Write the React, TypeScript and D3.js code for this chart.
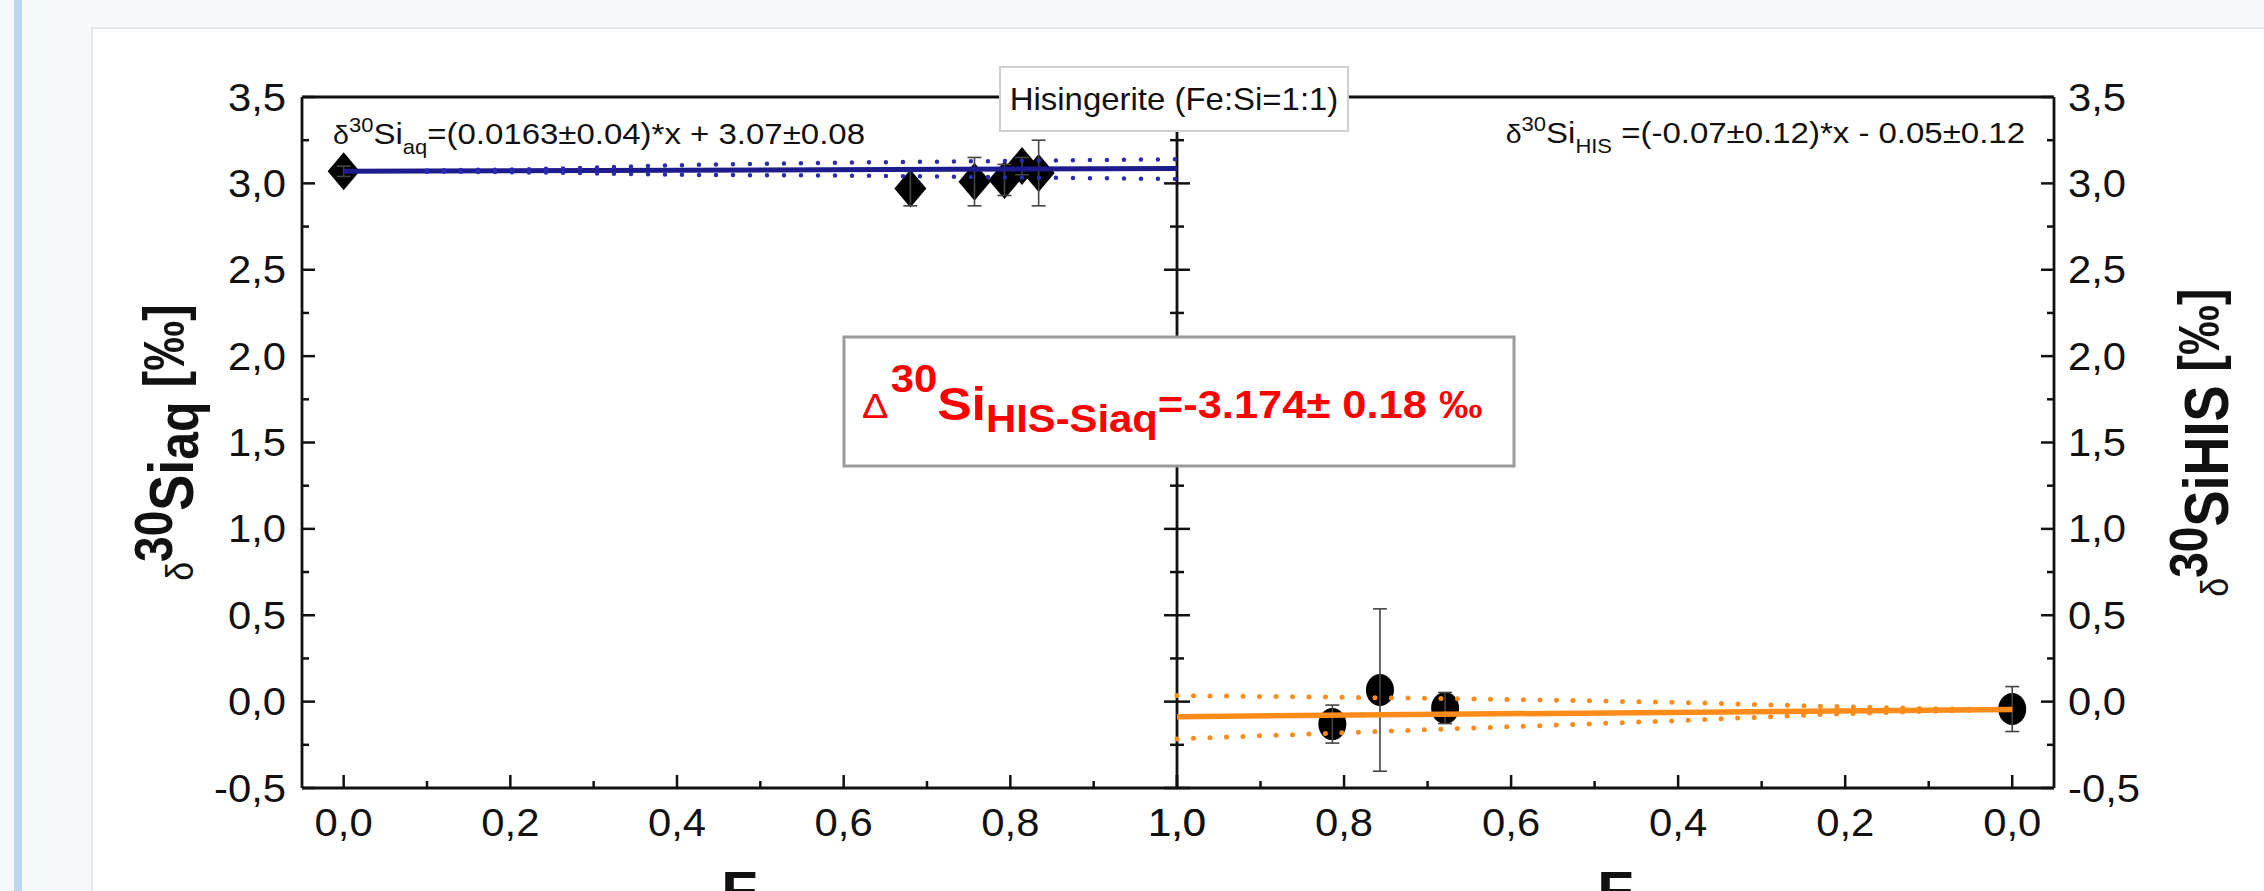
import * as d3 from 'd3';
import React from 'react';

const W = 2264;
const H = 891;
const FONT = "'Liberation Sans', Arial, Helvetica, sans-serif";
const SX = 1.1; // glyphs in the source are a bit wide

// left panel: dissolved Si (diamonds)
const aqF = [0, 0.68, 0.757, 0.793, 0.814, 0.834];
const aqDelta = [3.07, 2.97, 3.01, 3.02, 3.1, 3.06];
const aqErr = [0.03, 0.1, 0.14, 0.09, 0.05, 0.19];
const aqFitF = [0, 1];
const aqFitDelta = [3.07, 3.086];
const aqBandF = [0.1, 0.25, 0.4, 0.6, 0.8, 1.0];
const aqBandUp = [3.075, 3.085, 3.105, 3.12, 3.13, 3.14];
const aqBandLo = [3.068, 3.062, 3.05, 3.045, 3.035, 3.025];

// right panel: hisingerite (circles)
const hisF = [0.814, 0.757, 0.679, 0];
const hisDelta = [-0.13, 0.067, -0.037, -0.043];
const hisErr = [0.11, 0.47, 0.09, 0.13];
const hisFitF = [1, 0];
const hisFitDelta = [-0.087, -0.045];
const hisBandF = [1.0, 0.8, 0.6, 0.4, 0.2, 0.05];
const hisBandUp = [0.035, 0.025, 0.012, -0.005, -0.03, -0.045];
const hisBandLo = [-0.216, -0.18, -0.145, -0.11, -0.07, -0.05];

const xTicks = [0, 0.2, 0.4, 0.6, 0.8, 1.0];
const xMinor = [0.1, 0.3, 0.5, 0.7, 0.9];
const yTicks = [-0.5, 0, 0.5, 1, 1.5, 2, 2.5, 3, 3.5];
const yMinor = [-0.25, 0.25, 0.75, 1.25, 1.75, 2.25, 2.75, 3.25];

const fmt = (v: number) => d3.format('.1f')(v).replace('.', ',').replace('\u2212', '-');

export default function App() {
  const xL = d3.scaleLinear().domain([-0.05, 1]).range([302, 1177]);
  const xR = d3.scaleLinear().domain([1, -0.05]).range([1177, 2054]);
  const y = d3.scaleLinear().domain([-0.5, 3.5]).range([788, 97]);

  const top = y(3.5);
  const bottom = y(-0.5);
  const left = xL(-0.05);
  const mid = xL(1);
  const right = xR(-0.05);

  const major = 13;
  const minor = 7;
  const axisColor = '#111';

  const fitLine = (xs: number[], sc: d3.ScaleLinear<number, number>) =>
    d3.line<number>().x((_, i) => sc(xs[i])).y((d) => y(d));
  const bandLine = (xs: number[], sc: d3.ScaleLinear<number, number>) =>
    d3.line<number>().x((_, i) => sc(xs[i])).y((d) => y(d)).curve(d3.curveMonotoneX);

  const diamond = (cx: number, cy: number) =>
    `M${cx},${cy - 19}L${cx + 16},${cy}L${cx},${cy + 19}L${cx - 16},${cy}Z`;

  const errBar = (cx: number, v: number, e: number, key: string) => (
    <g key={key} stroke="#444" strokeWidth={1.6}>
      <line x1={cx} x2={cx} y1={y(v + e)} y2={y(v - e)} />
      <line x1={cx - 7} x2={cx + 7} y1={y(v + e)} y2={y(v + e)} />
      <line x1={cx - 7} x2={cx + 7} y1={y(v - e)} y2={y(v - e)} />
    </g>
  );

  return (
    <svg
      width={W}
      height={H}
      viewBox={`0 0 ${W} ${H}`}
      style={{ position: 'absolute', left: 0, top: 0, fontFamily: FONT }}
    >
      {/* page around the figure */}
      <rect x={0} y={0} width={W} height={H} fill="#f7f8fa" />
      <rect x={14} y={0} width={8} height={H} fill="#bcd6f2" />
      <rect x={92} y={28} width={2300} height={1000} fill="#fff" stroke="#dcdfe3" strokeWidth={1.5} />

      {/* frame */}
      <g stroke={axisColor} strokeWidth={2.8} fill="none">
        <line x1={left} x2={right} y1={top} y2={top} />
        <line x1={left} x2={right} y1={bottom} y2={bottom} />
        <line x1={left} x2={left} y1={top} y2={bottom} />
        <line x1={mid} x2={mid} y1={top} y2={bottom} />
        <line x1={right} x2={right} y1={top} y2={bottom} />
      </g>

      {/* y ticks */}
      <g stroke={axisColor} strokeWidth={2.5}>
        {yTicks.map((t) => (
          <g key={'yt' + t}>
            <line x1={left} x2={left + major} y1={y(t)} y2={y(t)} />
            <line x1={mid - major} x2={mid + major} y1={y(t)} y2={y(t)} />
            <line x1={right - major} x2={right} y1={y(t)} y2={y(t)} />
          </g>
        ))}
        {yMinor.map((t) => (
          <g key={'ym' + t}>
            <line x1={left} x2={left + minor} y1={y(t)} y2={y(t)} />
            <line x1={mid - minor} x2={mid + minor} y1={y(t)} y2={y(t)} />
            <line x1={right - minor} x2={right} y1={y(t)} y2={y(t)} />
          </g>
        ))}
        {xTicks.map((t) => (
          <g key={'xt' + t}>
            <line x1={xL(t)} x2={xL(t)} y1={bottom} y2={bottom - major} />
            <line x1={xR(t)} x2={xR(t)} y1={bottom} y2={bottom - major} />
          </g>
        ))}
        {xMinor.map((t) => (
          <g key={'xm' + t}>
            <line x1={xL(t)} x2={xL(t)} y1={bottom} y2={bottom - minor} />
            <line x1={xR(t)} x2={xR(t)} y1={bottom} y2={bottom - minor} />
          </g>
        ))}
      </g>

      {/* tick labels */}
      <g fontSize={38} fill="#111">
        {yTicks.map((t) => (
          <g key={'yl' + t}>
            <text transform={`translate(${left - 16},${y(t) + 13.5}) scale(${SX},1)`} textAnchor="end">
              {fmt(t)}
            </text>
            <text transform={`translate(${right + 14},${y(t) + 13.5}) scale(${SX},1)`} textAnchor="start">
              {fmt(t)}
            </text>
          </g>
        ))}
        {xTicks.map((t) => (
          <g key={'xl' + t}>
            <text transform={`translate(${xL(t)},836) scale(${SX},1)`} textAnchor="middle">
              {fmt(t)}
            </text>
            <text transform={`translate(${xR(t)},836) scale(${SX},1)`} textAnchor="middle">
              {fmt(t)}
            </text>
          </g>
        ))}
      </g>

      {/* axis titles (the source page cuts the F labels at its bottom edge) */}
      <g fontWeight="bold" fontSize={54} fill="#111">
        <text transform={`translate(${(left + mid) / 2},909) scale(${SX},1)`} textAnchor="middle">F</text>
        <text transform={`translate(${(mid + right) / 2},909) scale(${SX},1)`} textAnchor="middle">F</text>
      </g>
      <text transform={`translate(193,${(top + bottom) / 2}) scale(1.15,1) rotate(-90)`} textAnchor="middle" fill="#111">
        <tspan fontSize={34}>δ</tspan>
        <tspan fontSize={46} fontWeight="bold" dy={-18}>30</tspan>
        <tspan fontSize={54} fontWeight="bold" dy={18}>Si</tspan>
        <tspan fontSize={50} fontWeight="bold" dy={4}>aq</tspan>
        <tspan fontSize={50} fontWeight="bold" dy={-12} style={{ whiteSpace: 'pre' }}>{' [‰]'}</tspan>
      </text>
      <text transform={`translate(2228,${(top + bottom) / 2}) scale(1.15,1) rotate(-90)`} textAnchor="middle" fill="#111">
        <tspan fontSize={34}>δ</tspan>
        <tspan fontSize={46} fontWeight="bold" dy={-18}>30</tspan>
        <tspan fontSize={54} fontWeight="bold" dy={18}>SiHIS</tspan>
        <tspan fontSize={50} fontWeight="bold" dy={-8} style={{ whiteSpace: 'pre' }}>{' [‰]'}</tspan>
      </text>

      {/* left panel data */}
      {aqF.map((f, i) => (
        <path key={'d' + i} d={diamond(xL(f), y(aqDelta[i]))} fill="#000" />
      ))}
      {aqF.map((f, i) => errBar(xL(f), aqDelta[i], aqErr[i], 'ea' + i))}
      <path d={fitLine(aqFitF, xL)(aqFitDelta) || ''} fill="none" stroke="#1c1c8c" strokeWidth={5} />
      <g fill="none" stroke="#2a2ab4" strokeWidth={4.5} strokeDasharray="0 17" strokeLinecap="round">
        <path d={bandLine(aqBandF, xL)(aqBandUp) || ''} />
        <path d={bandLine(aqBandF, xL)(aqBandLo) || ''} />
      </g>

      {/* right panel data */}
      {hisF.map((f, i) => (
        <ellipse key={'c' + i} cx={xR(f)} cy={y(hisDelta[i])} rx={14} ry={16} fill="#000" />
      ))}
      {hisF.map((f, i) => errBar(xR(f), hisDelta[i], hisErr[i], 'eh' + i))}
      <path d={fitLine(hisFitF, xR)(hisFitDelta) || ''} fill="none" stroke="#ff8c1a" strokeWidth={5.5} />
      <g fill="none" stroke="#ff8c1a" strokeWidth={5} strokeDasharray="0 16.5" strokeLinecap="round">
        <path d={bandLine(hisBandF, xR)(hisBandUp) || ''} />
        <path d={bandLine(hisBandF, xR)(hisBandLo) || ''} />
      </g>

      {/* fit equations */}
      <text transform={`translate(333,144) scale(${SX},1)`} fill="#111" style={{ whiteSpace: 'pre' }}>
        <tspan fontSize={26}>δ</tspan>
        <tspan fontSize={20} dy={-12}>30</tspan>
        <tspan fontSize={30} dy={12}>Si</tspan>
        <tspan fontSize={20} dy={10}>aq</tspan>
        <tspan fontSize={30} dy={-10}>=(0.0163±0.04)*x + 3.07±0.08</tspan>
      </text>
      <text transform={`translate(2025,143) scale(${SX},1)`} textAnchor="end" fill="#111" style={{ whiteSpace: 'pre' }}>
        <tspan fontSize={26}>δ</tspan>
        <tspan fontSize={20} dy={-12}>30</tspan>
        <tspan fontSize={30} dy={12}>Si</tspan>
        <tspan fontSize={20} dy={10}>HIS</tspan>
        <tspan fontSize={30} dy={-10}>{' =(-0.07±0.12)*x - 0.05±0.12'}</tspan>
      </text>

      {/* title box */}
      <rect x={1000} y={67} width={348} height={64} fill="#fff" stroke="#cfcfcf" strokeWidth={2} />
      <text transform={`translate(1174,110) scale(1.03,1)`} textAnchor="middle" fontSize={32} fill="#111">
        Hisingerite (Fe:Si=1:1)
      </text>

      {/* fractionation box */}
      <rect x={844} y={337} width={670} height={129} fill="#fff" stroke="#9a9a9a" strokeWidth={3} />
      <text transform={`translate(862,418) scale(${SX},1)`} fill="#ff0000" style={{ whiteSpace: 'pre' }}>
        <tspan fontSize={36}>Δ</tspan>
        <tspan fontSize={38} fontWeight="bold" dy={-26} dx={2}>30</tspan>
        <tspan fontSize={47} fontWeight="bold" dy={28}>Si</tspan>
        <tspan fontSize={38} fontWeight="bold" dy={12}>HIS-Siaq</tspan>
        <tspan fontSize={39.5} fontWeight="bold" dy={-14}>=-3.174± 0.18 ‰</tspan>
      </text>
    </svg>
  );
}
